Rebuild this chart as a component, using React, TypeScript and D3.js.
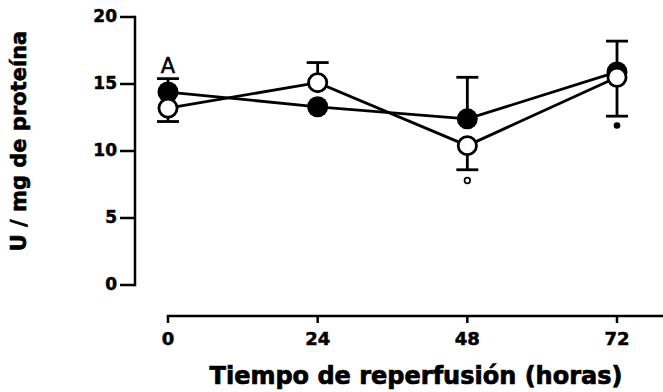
import React from "react";
import * as d3 from "d3";

const hours = [0, 24, 48, 72];
const filledValues = [14.4, 13.3, 12.4, 15.9];
const openValues = [13.2, 15.1, 10.4, 15.5];
// one-sided error bar ends for each series
const filledErr = [15.4, null, 15.5, 18.2];
const openErr = [12.2, 16.6, 8.6, 12.6];
const yTicks = [0, 5, 10, 15, 20];
const xTicks = [0, 24, 48, 72];
const annotations = [{ t: 0, v: 15.8, text: "A" }];
const markers = [
  { t: 48, v: 7.8, filled: false },
  { t: 72, v: 11.9, filled: true },
];

const W = 663;
const H = 392;
const FONT = "'DejaVu Sans', Verdana, sans-serif";

export default function App() {
  const x = d3.scaleLinear().domain([0, 72]).range([168, 617]);
  const y = d3.scaleLinear().domain([0, 20]).range([285, 17]);
  const axisX = 135;
  const xAxisY = 316;
  const line = d3
    .line<number>()
    .x((_, i) => x(hours[i]))
    .y((d) => y(d));
  const r = 10.5;
  const sw = 2.8;

  const errBars = (vals: number[], errs: (number | null)[]) =>
    errs.map((e, i) =>
      e == null ? null : (
        <g key={i} stroke="#000" strokeWidth={sw}>
          <line x1={x(hours[i])} x2={x(hours[i])} y1={y(vals[i])} y2={y(e)} />
          <line x1={x(hours[i]) - 11} x2={x(hours[i]) + 11} y1={y(e)} y2={y(e)} />
        </g>
      )
    );

  return (
    <svg width={W} height={H} style={{ position: "absolute", left: 0, top: 0 }}>
      <rect width={W} height={H} fill="#fff" />
      {/* Y axis */}
      <line x1={axisX} x2={axisX} y1={y(0) + 1.2} y2={y(20) - 1.2} stroke="#000" strokeWidth={2.5} />
      {yTicks.map((t) => (
        <g key={t}>
          <line x1={axisX - 15} x2={axisX} y1={y(t)} y2={y(t)} stroke="#000" strokeWidth={2.5} />
          <text
            x={axisX - 18}
            y={y(t)}
            dy="0.28em"
            textAnchor="end"
            fontFamily={FONT}
            fontWeight="bold"
            fontSize={17}
            stroke="#000"
            strokeWidth={0.5}
          >
            {t}
          </text>
        </g>
      ))}
      {/* X axis */}
      <line x1={x(0) - 1.2} x2={W} y1={xAxisY} y2={xAxisY} stroke="#000" strokeWidth={2.5} />
      {xTicks.map((t) => (
        <g key={t}>
          <line x1={x(t)} x2={x(t)} y1={xAxisY} y2={xAxisY + 7} stroke="#000" strokeWidth={2.5} />
          <text
            x={x(t)}
            y={xAxisY + 29}
            textAnchor="middle"
            fontFamily={FONT}
            fontWeight="bold"
            fontSize={18}
            stroke="#000"
            strokeWidth={0.5}
          >
            {t}
          </text>
        </g>
      ))}
      <text
        x={416}
        y={384}
        textAnchor="middle"
        fontFamily={FONT}
        fontWeight="bold"
        fontSize={24}
        stroke="#000"
        strokeWidth={0.7}
      >
        Tiempo de reperfusión (horas)
      </text>
      <text
        transform={`translate(26,141) rotate(-90)`}
        textAnchor="middle"
        fontFamily={FONT}
        fontWeight="bold"
        fontSize={21}
        stroke="#000"
        strokeWidth={0.6}
      >
        U / mg de proteína
      </text>
      {/* lines */}
      <path d={line(filledValues) || ""} fill="none" stroke="#000" strokeWidth={sw} />
      <path d={line(openValues) || ""} fill="none" stroke="#000" strokeWidth={sw} />
      {errBars(filledValues, filledErr)}
      {errBars(openValues, openErr)}
      {filledValues.map((v, i) => (
        <circle key={"f" + i} cx={x(hours[i])} cy={y(v)} r={r} fill="#000" />
      ))}
      {openValues.map((v, i) => (
        <circle
          key={"o" + i}
          cx={x(hours[i])}
          cy={y(v)}
          r={r - 1.4}
          fill="#fff"
          stroke="#000"
          strokeWidth={sw}
        />
      ))}
      {annotations.map((a, i) => (
        <text
          key={i}
          x={x(a.t)}
          y={y(a.v)}
          textAnchor="middle"
          fontFamily={FONT}
          fontSize={21}
          stroke="#000"
          strokeWidth={0.5}
        >
          {a.text}
        </text>
      ))}
      {markers.map((m, i) =>
        m.filled ? (
          <circle key={i} cx={x(m.t)} cy={y(m.v)} r={3.3} fill="#000" />
        ) : (
          <circle key={i} cx={x(m.t)} cy={y(m.v)} r={2.8} fill="#fff" stroke="#000" strokeWidth={1.7} />
        )
      )}
    </svg>
  );
}
